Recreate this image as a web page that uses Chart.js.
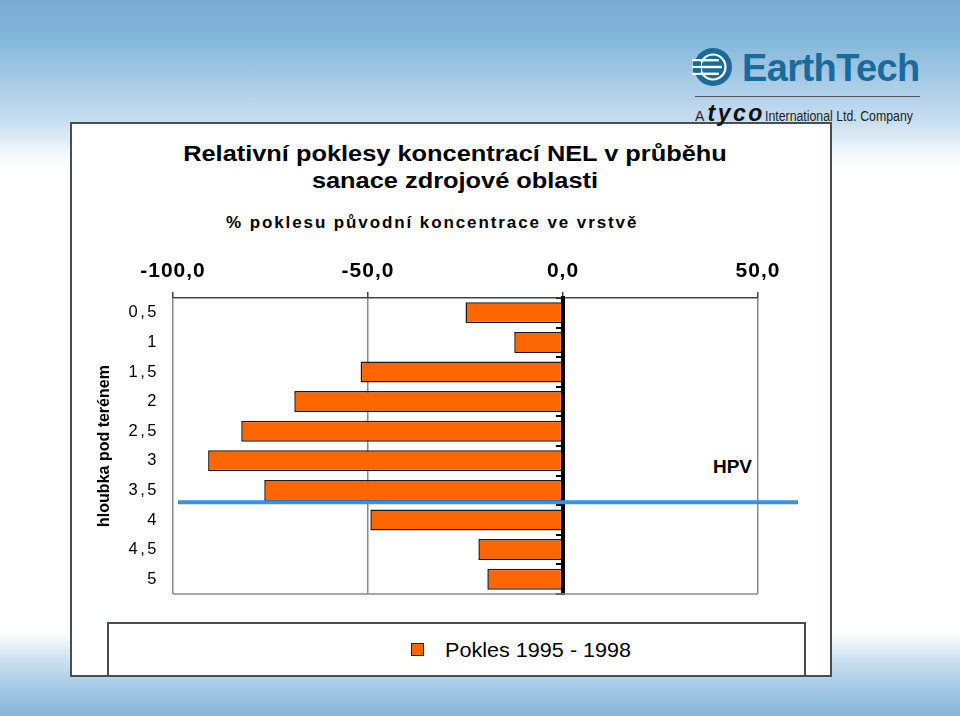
<!DOCTYPE html>
<html><head><meta charset="utf-8">
<script src="https://cdn.jsdelivr.net/npm/chart.js@4.4.1/dist/chart.umd.min.js"></script>
<style>
html,body{margin:0;padding:0;}
body{width:960px;height:716px;position:relative;overflow:hidden;font-family:"Liberation Sans",Arial,sans-serif;
background:linear-gradient(to bottom,#79abd0 0px,#84b8db 40px,#b3d1ea 95px,#c8def0 122px,#eef5fb 150px,#ffffff 170px,#ffffff 632px,#d5e6f3 655px,#a9cbe6 685px,#85b5d9 716px);}
#frame{position:absolute;left:70px;top:122px;width:762px;height:555px;box-sizing:border-box;border:2px solid #4a4d52;background:#fff;}
#legendBox{position:absolute;left:107px;top:622px;width:699px;height:55px;box-sizing:border-box;border:2px solid #4a4d52;border-bottom:none;}
.t{position:absolute;white-space:nowrap;color:#000;}
#chart{position:absolute;left:0;top:0;}
</style></head>
<body>
<div id="frame"></div>
<div id="legendBox"></div>
<div class="t" style="left:0;width:910px;text-align:center;top:143px;font:bold 22px/22px 'Liberation Sans';transform:scaleX(1.153);">Relativní poklesy koncentrací NEL v průběhu</div>
<div class="t" style="left:0;width:910px;text-align:center;top:170px;font:bold 22px/22px 'Liberation Sans';transform:scaleX(1.153);">sanace zdrojové oblasti</div>
<div class="t" style="left:226px;top:214px;font:bold 17px/17px 'Liberation Sans';letter-spacing:1.9px;">% poklesu původní koncentrace ve vrstvě</div>
<div class="t" style="left:700px;width:52px;text-align:right;top:457px;font:bold 19px/19px 'Liberation Sans';">HPV</div>
<div style="position:absolute;left:411px;top:643px;width:13px;height:13px;box-sizing:border-box;background:#ff6600;border:1.5px solid #222;"></div>
<div class="t" style="left:445px;top:640px;font:20px/20px 'Liberation Sans';transform:scaleX(1.08);transform-origin:0 50%;">Pokles 1995 - 1998</div>
<!-- logo -->
<svg style="position:absolute;left:692px;top:46px" width="42" height="42" viewBox="0 0 42 42">
 <circle cx="21" cy="21" r="19" fill="#1a6a9c"/>
 <circle cx="21" cy="21" r="12.5" fill="none" stroke="#fff" stroke-width="2.2"/>
 <rect x="0" y="13" width="27" height="2.4" fill="#fff"/>
 <rect x="0" y="19.8" width="30" height="2.4" fill="#fff"/>
 <rect x="0" y="26.6" width="27" height="2.4" fill="#fff"/>
 <rect x="1" y="15.4" width="8" height="4.4" fill="#1a6a9c"/>
 <rect x="1" y="22.2" width="8" height="4.4" fill="#1a6a9c"/>
</svg>
<div class="t" style="left:742px;top:49px;font:bold 38px/38px 'Liberation Sans';color:#1a6a9c;letter-spacing:-0.6px;">EarthTech</div>
<div style="position:absolute;left:695px;top:96px;width:225px;height:1px;background:#555;"></div>
<div class="t" style="left:695px;top:103px;font:14px/20px 'Liberation Sans';color:#222;"><span>A </span><span style="font-weight:900;font-style:italic;font-size:23px;letter-spacing:2.5px;color:#111;">tyco</span><span style="display:inline-block;transform:scaleX(0.88);transform-origin:0 50%;">International Ltd. Company</span></div>
<canvas id="chart" width="960" height="716"></canvas>
<script>
const depthLabels = ['0,5','1','1,5','2','2,5','3','3,5','4','4,5','5'];
const declineValues = [-25.0,-12.5,-51.9,-68.9,-82.5,-91.0,-76.6,-49.4,-21.7,-19.4];
const xTickValues = [-100,-50,0,50];
const xTickLabels = ['-100,0','-50,0','0,0','50,0'];
const seriesName = 'Pokles 1995 - 1998';
const yAxisTitle = 'hloubka pod terénem';
const hpvDepth = 3.7;
const depthStep = 0.5;
const firstDepth = 0.5;

class SpacedCategoryScale extends Chart.CategoryScale {
  drawLabels(area){ this.ctx.save(); this.ctx.letterSpacing = '2.5px'; super.drawLabels(area); this.ctx.restore(); }
}
SpacedCategoryScale.id = 'spacedCategory';
SpacedCategoryScale.defaults = Chart.CategoryScale.defaults;
class SpacedLinearScale extends Chart.LinearScale {
  drawLabels(area){ this.ctx.save(); this.ctx.letterSpacing = '1px'; super.drawLabels(area); this.ctx.restore(); }
}
SpacedLinearScale.id = 'spacedLinear';
SpacedLinearScale.defaults = Chart.LinearScale.defaults;
Chart.register(SpacedCategoryScale, SpacedLinearScale);

const framePlugin = {
  id:'frameLine',
  beforeDatasetsDraw(chart){
    const a = chart.chartArea, c = chart.ctx;
    c.save(); c.strokeStyle='#8a8a8a'; c.lineWidth=1.5;
    c.beginPath(); c.moveTo(a.left, a.bottom); c.lineTo(a.right, a.bottom); c.stroke();
    c.restore();
  }
};
const hpvPlugin = {
  id:'hpvLine',
  afterDatasetsDraw(chart){
    const a = chart.chartArea, c = chart.ctx, ys = chart.scales.y;
    const y = ys.getPixelForValue((hpvDepth - firstDepth)/depthStep);
    c.save(); c.strokeStyle='#3c8fe3'; c.lineWidth=4;
    c.beginPath(); c.moveTo(a.left+5, y); c.lineTo(a.right+40, y); c.stroke();
    c.restore();
  }
};

new Chart(document.getElementById('chart'), {
  type:'bar',
  data:{labels:depthLabels, datasets:[{label:seriesName, data:declineValues, backgroundColor:'#ff6600', borderColor:'#1a1a1a', borderWidth:1.5, borderSkipped:false, barPercentage:0.71, categoryPercentage:1, yAxisID:'y', xAxisID:'x'}]},
  options:{
    indexAxis:'y', responsive:false, animation:false, devicePixelRatio:1,
    layout:{padding:{left:91, top:240, right:202, bottom:122}},
    plugins:{legend:{display:false}, tooltip:{enabled:false}},
    scales:{
      x:{type:'spacedLinear', position:'top', min:-100, max:50,
        afterBuildTicks(s){ s.ticks = xTickValues.map(v=>({value:v})); },
        afterFit(s){ s.height = 58; },
        ticks:{callback:(v,i)=>xTickLabels[i], font:{family:'Liberation Sans', size:21, weight:'bold'}, color:'#000', padding:8, maxRotation:0, autoSkip:false},
        grid:{color:'#8a8a8a', lineWidth:1.5, tickLength:6, tickColor:'#444'},
        border:{display:true, color:'#444', width:1.5}},
      y:{type:'spacedCategory', position:'left', offset:true,
        afterFit(s){ s.width = 82; },
        grid:{display:false, offset:true}, border:{display:false},
        ticks:{font:{family:'Liberation Sans', size:16.5}, color:'#000', padding:6},
        title:{display:true, text:yAxisTitle, font:{family:'Liberation Sans', size:16, weight:'bold'}, color:'#000', padding:{top:4, bottom:0}}},
      y2:{type:'category', position:{x:0}, offset:true, z:1,
        grid:{offset:true, drawOnChartArea:false, drawTicks:true, tickLength:5, color:'#000', lineWidth:2},
        border:{display:true, color:'#000', width:4},
        ticks:{display:false}}
    }
  },
  plugins:[framePlugin, hpvPlugin]
});
</script>
</body></html>
